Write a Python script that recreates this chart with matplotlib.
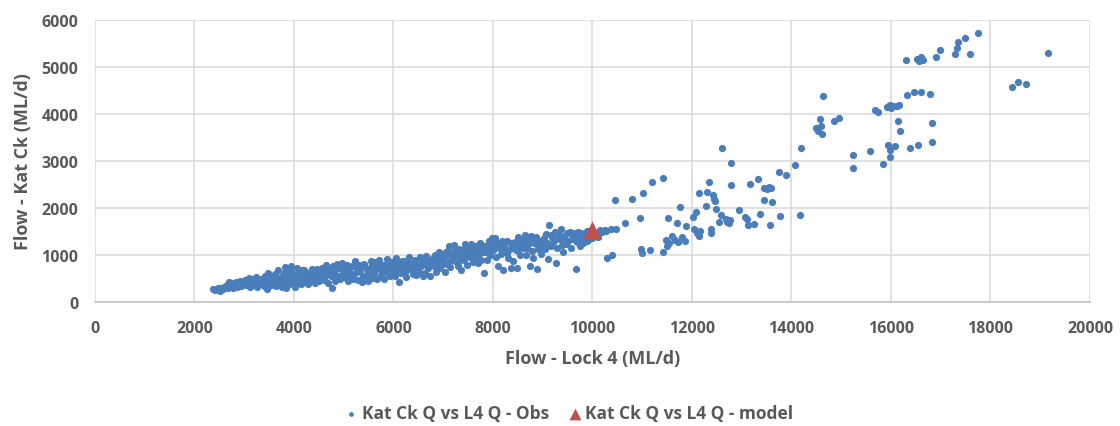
import matplotlib
matplotlib.use("Agg")
import matplotlib.pyplot as plt

# ********** Data *************************************************************

# observed flows, dense band (Lock 4 flow, Kat Ck flow), one line per ~200 ML/d bin
obs_x = [
    2380, 2420, 2450, 2480, 2510, 2540, 2570, 2600,
    2620, 2650, 2680, 2700, 2720, 2750, 2770, 2790,
    2810, 2840, 2860, 2880, 2910, 2940, 2960, 2990,
    3010, 3030, 3060, 3090, 3110, 3140, 3160, 3190,
    3210, 3230, 3260, 3290, 3310, 3340, 3360, 3390,
    3410, 3430, 3450, 3480, 3500, 3530, 3560, 3590,
    3610, 3630, 3660, 3680, 3710, 3730, 3760, 3790,
    3810, 3830, 3850, 3880, 3900, 3930, 3950, 3980,
    4010, 4030, 4060, 4090, 4110, 4140, 4160, 4190,
    4210, 4240, 4260, 4290, 4310, 4340, 4370, 4390,
    4410, 4430, 4460, 4480, 4510, 4540, 4560, 4590,
    4610, 4640, 4660, 4690, 4710, 4740, 4760, 4790,
    4810, 4830, 4860, 4880, 4910, 4930, 4960, 4990,
    5010, 5040, 5060, 5090, 5110, 5140, 5160, 5190,
    5210, 5230, 5260, 5280, 5310, 5330, 5360, 5390,
    5410, 5440, 5460, 5490, 5510, 5540, 5560, 5590,
    5610, 5630, 5660, 5680, 5710, 5740, 5760, 5790,
    5810, 5830, 5860, 5880, 5910, 5930, 5960, 5990,
    6010, 6040, 6060, 6090, 6110, 6140, 6160, 6190,
    6210, 6230, 6260, 6280, 6310, 6340, 6360, 6390,
    6410, 6440, 6460, 6490, 6510, 6540, 6560, 6590,
    6610, 6630, 6660, 6690, 6710, 6740, 6760, 6790,
    6810, 6830, 6860, 6880, 6910, 6940, 6960, 6990,
    7010, 7030, 7060, 7080, 7110, 7140, 7160, 7190,
    7210, 7240, 7260, 7290, 7310, 7340, 7360, 7390,
    7410, 7430, 7460, 7480, 7510, 7540, 7560, 7590,
    7610, 7640, 7660, 7690, 7710, 7740, 7760, 7790,
    7810, 7830, 7860, 7880, 7910, 7940, 7960, 7990,
    8010, 8040, 8060, 8090, 8110, 8140, 8160, 8190,
    8210, 8230, 8260, 8280, 8310, 8340, 8360, 8390,
    8410, 8440, 8460, 8490, 8510, 8540, 8560, 8590,
    8610, 8640, 8660, 8690, 8710, 8740, 8760, 8790,
    8810, 8830, 8860, 8880, 8910, 8940, 8960, 8990,
    9010, 9040, 9060, 9090, 9110, 9130, 9160, 9190,
    9210, 9240, 9260, 9290, 9310, 9340, 9360, 9390,
    9410, 9430, 9460, 9480, 9510, 9540, 9560, 9590,
    9610, 9640, 9670, 9690, 9710, 9740, 9760, 9790,
    9810, 9830, 9860, 9880, 9910, 9940, 9960, 9990,
    10020, 10080, 10150, 10200, 10280, 10300, 10370, 10400,
]
obs_y = [
    290, 250, 270, 310, 240, 300, 280, 330,
    320, 360, 300, 420, 340, 380, 310, 400,
    360, 420, 330, 390, 450, 350, 410, 380,
    480, 360, 420, 520, 330, 450, 390, 470,
    400, 540, 320, 460, 380, 500, 440, 350,
    560, 420, 280, 630, 480, 370, 520, 440,
    600, 350, 470, 680, 400, 540, 320, 620,
    740, 300, 450, 580, 380, 660, 770, 500,
    560, 330, 720, 460, 640, 390, 520, 600,
    690, 420, 560, 380, 620, 500, 700, 450,
    600, 410, 700, 520, 460, 650, 720, 550,
    480, 800, 620, 400, 700, 560, 310, 760,
    650, 450, 820, 560, 720, 500, 840, 620,
    720, 520, 800, 440, 660, 580, 760, 490,
    600, 880, 700, 470, 780, 640, 420, 560,
    820, 560, 700, 450, 640, 880, 760, 520,
    620, 850, 500, 730, 900, 580, 680, 790,
    490, 700, 910, 620, 780, 560, 860, 680,
    760, 560, 940, 680, 430, 820, 620, 720,
    880, 640, 540, 760, 950, 700, 820, 600,
    700, 900, 580, 800, 650, 960, 760, 560,
    820, 620, 980, 720, 880, 560, 780, 940,
    760, 1000, 640, 880, 1060, 720, 940, 820,
    960, 640, 1070, 820, 1200, 740, 900, 1020,
    1210, 880, 1000, 760, 1120, 940, 680, 1060,
    900, 1230, 1040, 780, 1150, 960, 1240, 860,
    1100, 950, 1200, 840, 1030, 1250, 900, 1150,
    620, 1060, 1200, 900, 1300, 1000, 1140, 1360,
    1100, 1360, 950, 1240, 760, 1160, 1020, 1290,
    690, 1200, 1060, 1310, 940, 1140, 720, 1250,
    880, 1280, 1100, 720, 1380, 1000, 1200, 1320,
    1150, 1420, 1000, 1300, 1230, 760, 1400, 1080,
    930, 1260, 1380, 700, 1120, 1300, 1020, 1220,
    1300, 1120, 1440, 1260, 910, 1650, 1200, 1380,
    1280, 1500, 840, 1160, 1420, 1340, 1550, 1220,
    1060, 1380, 1240, 1460, 1300, 1500, 1160, 1420,
    1350, 1480, 700, 1280, 1420, 1200, 1460, 1340,
    1260, 1450, 1380, 1520, 1330, 1410, 1480, 1360,
    1390, 1470, 1540, 1500, 1520, 940, 1560, 1010,
]

# observed flows, core of the band (where the dots pile up)
core_x = [
    2630, 2700, 2770, 2850, 2920, 2980,
    3030, 3100, 3170, 3240, 3310, 3380,
    3420, 3490, 3560, 3630, 3700, 3770,
    3820, 3890, 3960, 4030, 4100, 4170,
    4220, 4290, 4360, 4430, 4500, 4570,
    4620, 4690, 4760, 4830, 4900, 4970,
    5020, 5090, 5160, 5230, 5300, 5370,
    5420, 5490, 5560, 5630, 5700, 5770,
    5820, 5890, 5960, 6030, 6100, 6170,
    6220, 6290, 6360, 6430, 6500, 6570,
    6620, 6690, 6760, 6830, 6900, 6970,
    7020, 7090, 7160, 7230, 7300, 7370,
    7420, 7490, 7560, 7630, 7700, 7770,
    7820, 7890, 7960, 8030, 8100, 8170,
    8220, 8290, 8360, 8430, 8500, 8570,
    8620, 8690, 8760, 8830, 8900, 8970,
    9020, 9090, 9160, 9230, 9300, 9370,
    9420, 9490, 9560, 9630, 9700, 9770,
    9820, 9890, 9960, 10050, 10120, 10250,
]
core_y = [
    350, 390, 330, 400, 370, 420,
    440, 380, 500, 420, 470, 400,
    500, 430, 560, 450, 520, 420,
    560, 470, 620, 430, 500, 680,
    520, 600, 470, 650, 560, 620,
    560, 680, 720, 600, 760, 540,
    620, 720, 560, 760, 680, 800,
    740, 620, 800, 680, 760, 620,
    780, 660, 740, 840, 700, 880,
    720, 860, 780, 840, 700, 900,
    900, 760, 860, 940, 800, 980,
    880, 1080, 980, 1100, 860, 1000,
    1120, 980, 1080, 1020, 1160, 1060,
    1200, 1080, 1240, 1140, 1260, 1180,
    1180, 1040, 1260, 1200, 1120, 1240,
    1260, 1160, 1300, 1340, 1200, 1140,
    1360, 1200, 1420, 1300, 1460, 1380,
    1400, 1300, 1460, 1380, 1500, 1440,
    1420, 1300, 1470, 1450, 1390, 1540,
]

# observed flows, sparse upper part
high_x = [
    10450, 10470, 10645, 10794, 10946, 10975, 11002, 11008, 11163, 11189,
    11410, 11422, 11480, 11500, 11545, 11523, 11590, 11650, 11704, 11720,
    11752, 11800, 11860, 11885, 12026, 12050, 12080, 12100, 12133, 12140,
    12160, 12281, 12294, 12351, 12374, 12388, 12415, 12440, 12455, 12482,
    12542, 12575, 12603, 12680, 12710, 12740, 12760, 12784, 12784, 12938,
    13057, 13100, 13120, 13166, 13240, 13326, 13372, 13447, 13450, 13500,
    13540, 13580, 13568, 13601, 13740, 13761, 13881, 14062, 14170, 14185,
    14500, 14540, 14573, 14600, 14620, 14627, 14854, 14954, 15236, 15243,
    15578, 15685, 15732, 15832, 15925, 15960, 15990, 16000, 16050, 16120,
    16160, 15946, 15973, 15980, 16086, 16147, 16187, 16301, 16328, 16382,
    16469, 16536, 16520, 16560, 16600, 16640, 16610, 16784, 16824, 16830,
    16904, 16985, 17280, 17331, 17352, 17480, 17580, 17755, 18424, 18545,
    18713, 19155,
]
high_y = [
    2170, 1560, 1680, 2200, 1780, 1140, 1040, 2330, 1110, 2550,
    2645, 1060, 1320, 1200, 1250, 1780, 1410, 1330, 1690, 1270,
    2030, 1380, 1300, 1610, 1820, 1550, 1915, 1480, 2330, 1400,
    1520, 2040, 2350, 2560, 1560, 1460, 2270, 2200, 2150, 1970,
    1710, 1860, 3270, 1760, 1700, 1680, 1740, 2950, 2490, 1950,
    1800, 1760, 1640, 2520, 1660, 2610, 1870, 2170, 2430, 2400,
    2440, 2420, 1640, 2120, 2770, 1830, 2700, 2910, 1860, 3280,
    3700, 3640, 3900, 3750, 3580, 4390, 3845, 3915, 3135, 2850,
    3220, 4090, 4050, 2945, 4140, 4170, 4200, 4120, 4160, 4180,
    4200, 3350, 3235, 3090, 3330, 3860, 3640, 5150, 4400, 3280,
    4475, 3340, 5170, 5120, 5210, 5150, 4460, 4425, 3400, 3800,
    5205, 5360, 5280, 5400, 5540, 5610, 5280, 5720, 4570, 4670,
    4645, 5305,
]

model_x = [10000]
model_y = [1540]

label_obs = "Kat Ck Q vs L4 Q - Obs"
label_model = "Kat Ck Q vs L4 Q - model"

# ********** Plot *************************************************************

plt.rcParams["font.family"] = ["Open Sans", "DejaVu Sans"]
text_color = "#595959"
blue = "#4A7EBB"
red = "#C0504D"

fig = plt.figure(figsize=(11.2, 4.27), dpi=100)
ax = fig.add_axes([0.0848, 0.290, 0.8884, 0.661])

ax.scatter(obs_x + core_x + high_x, obs_y + core_y + high_y, s=27, color=blue,
           linewidths=0, label=label_obs, zorder=3)
ax.scatter(model_x, model_y, s=170, marker="^", color=red, linewidths=0,
           label=label_model, zorder=4)

ax.set_xlim(0, 20000)
ax.set_ylim(0, 6000)
ax.set_xticks(range(0, 20001, 2000))
ax.set_yticks(range(0, 6001, 1000))
ax.grid(color="#D9D9D9", linewidth=1.1)
ax.set_axisbelow(True)
for side in ["top", "right", "left"]:
    ax.spines[side].set_visible(False)
ax.spines["bottom"].set_color("#BFBFBF")
ax.spines["bottom"].set_linewidth(1.1)
ax.tick_params(length=0, labelsize=11.5, labelcolor=text_color, pad=13)
ax.tick_params(axis="y", pad=12)
for lab in ax.get_xticklabels() + ax.get_yticklabels():
    lab.set_fontweight("bold")

ax.set_xlabel("Flow - Lock 4 (ML/d)", fontsize=13, fontweight="bold",
              color=text_color, labelpad=9)
ax.set_ylabel("Flow - Kat Ck (ML/d)", fontsize=13, fontweight="bold",
              color=text_color, labelpad=7)

leg = fig.legend(loc="center", bbox_to_anchor=(0.507, 0.03), ncol=2, frameon=False,
                 prop={"size": 12.5, "weight": "bold"}, labelcolor=text_color,
                 handlelength=1.0, handletextpad=0.1, columnspacing=1.0,
                 markerscale=0.65)

fig.savefig("out.png", dpi=100)
